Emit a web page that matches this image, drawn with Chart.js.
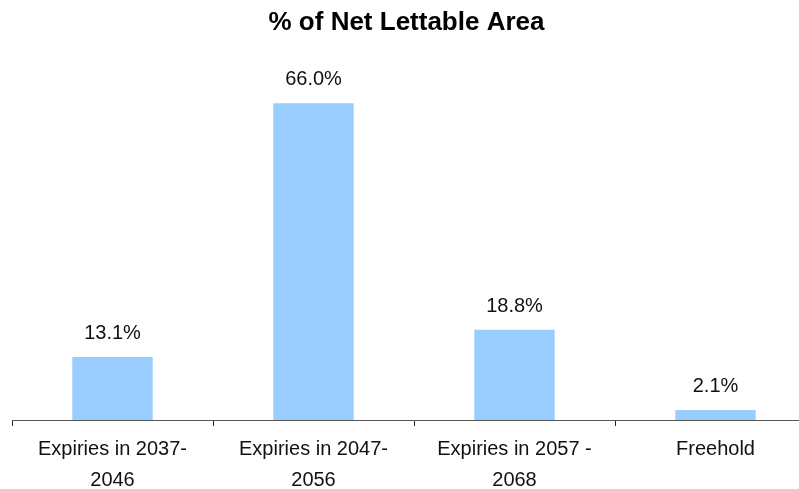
<!DOCTYPE html>
<html>
<head>
<meta charset="utf-8">
<script src="https://cdn.jsdelivr.net/npm/chart.js@4/dist/chart.umd.min.js"></script>
<style>
  html, body { margin: 0; padding: 0; background: #fff; overflow: hidden; }
  #wrap { position: relative; width: 830px; height: 489px; }
</style>
</head>
<body>
<div id="wrap"><canvas id="c" width="830" height="489"></canvas></div>
<script>
// Share of net lettable area by lease expiry band
const chartTitle = '% of Net Lettable Area';
const categories = [
  ['Expiries in 2037-', '2046'],
  ['Expiries in 2047-', '2056'],
  ['Expiries in 2057 -', '2068'],
  'Freehold'
];
const shares = [13.1, 66.0, 18.8, 2.1];

const FONT = "'Liberation Sans', Arial, Helvetica, sans-serif";

// Percentage labels above each bar
const valueLabels = {
  id: 'valueLabels',
  afterDatasetsDraw(chart) {
    const ctx = chart.ctx;
    const meta = chart.getDatasetMeta(0);
    ctx.save();
    ctx.font = '20px ' + FONT;
    ctx.fillStyle = '#111';
    ctx.textAlign = 'center';
    ctx.textBaseline = 'alphabetic';
    meta.data.forEach((bar, i) => {
      ctx.fillText(shares[i].toFixed(1) + '%', bar.x, bar.y - 18);
    });
    ctx.restore();
  }
};

// Heading centred over the plotted categories
const heading = {
  id: 'heading',
  afterDraw(chart) {
    const ctx = chart.ctx;
    ctx.save();
    ctx.font = 'bold 26px ' + FONT;
    ctx.fillStyle = '#000';
    ctx.textAlign = 'center';
    ctx.textBaseline = 'alphabetic';
    ctx.fillText(chartTitle, 406.5, 29.5);
    ctx.restore();
  }
};

new Chart(document.getElementById('c'), {
  type: 'bar',
  data: {
    labels: categories,
    datasets: [{
      data: shares,
      backgroundColor: '#99CCFF',
      borderWidth: 0,
      barPercentage: 0.8,
      categoryPercentage: 0.5
    }]
  },
  options: {
    responsive: false,
    animation: false,
    events: [],
    layout: { padding: { left: 12, right: 14, top: 36, bottom: 0 } },
    plugins: {
      legend: { display: false },
      title: { display: false },
      tooltip: { enabled: false }
    },
    scales: {
      y: {
        display: false,
        min: 0,
        max: 80
      },
      x: {
        offset: true,
        border: { display: true, color: '#555', width: 1 },
        grid: {
          offset: true,
          drawOnChartArea: false,
          drawTicks: true,
          tickLength: 6,
          tickColor: '#222',
          tickWidth: 1
        },
        ticks: {
          color: '#111',
          padding: 8,
          maxRotation: 0,
          autoSkip: false,
          font: { family: FONT, size: 20, lineHeight: 1.55 }
        },
        afterFit(scale) { scale.height = 69; }
      }
    }
  },
  plugins: [valueLabels, heading]
});
</script>
</body>
</html>
